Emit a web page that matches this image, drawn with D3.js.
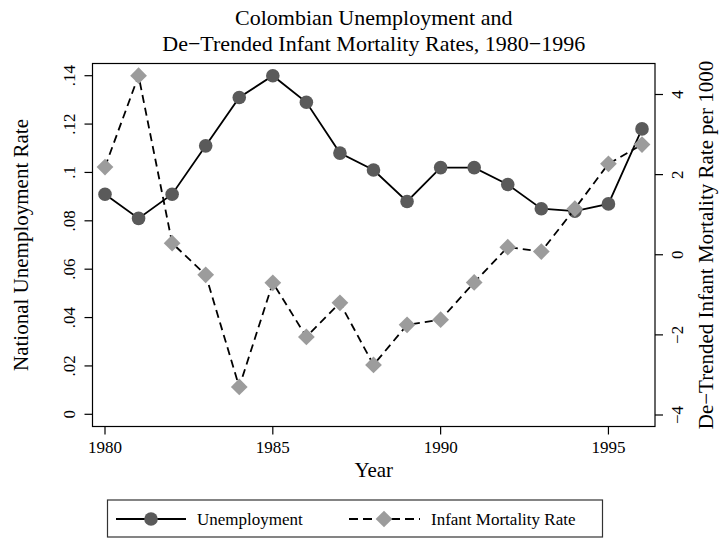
<!DOCTYPE html>
<html>
<head>
<meta charset="utf-8">
<script src="https://cdn.jsdelivr.net/npm/d3@7"></script>
<style>
  body { margin: 0; background: #fff; }
  svg { font-family: "Liberation Serif", "Times New Roman", serif; }
</style>
</head>
<body>
<svg width="725" height="548"></svg>
<script>
const years = [1980, 1981, 1982, 1983, 1984, 1985, 1986, 1987, 1988, 1989, 1990, 1991, 1992, 1993, 1994, 1995, 1996];
const unemployment = [0.091, 0.081, 0.091, 0.111, 0.131, 0.140, 0.129, 0.108, 0.101, 0.088, 0.102, 0.102, 0.095, 0.085, 0.084, 0.087, 0.118];
const infantMortality = [2.19, 4.47, 0.29, -0.50, -3.30, -0.70, -2.05, -1.20, -2.75, -1.75, -1.62, -0.69, 0.19, 0.08, 1.15, 2.27, 2.75];

const xTicks = [1980, 1985, 1990, 1995];
const leftTicks = [0, 0.02, 0.04, 0.06, 0.08, 0.1, 0.12, 0.14];
const rightTicks = [-4, -2, 0, 2, 4];

const svg = d3.select('svg');
const frame = { left: 92.5, right: 655, top: 63.5, bottom: 426.5 };

const x = d3.scaleLinear().domain([1980, 1996]).range([105, 642]);
const yL = d3.scaleLinear().domain([0, 0.14]).range([414.3, 75.7]);
const yR = d3.scaleLinear().domain([-4, 4]).range([415, 94.5]);

const circleFill = '#5a5a5a';
const diamondFill = '#9c9c9c';

// title
const title = svg.append('text')
    .attr('text-anchor', 'middle')
    .style('font-size', '22px');
title.append('tspan').attr('x', (frame.left + frame.right) / 2).attr('y', 25).text('Colombian Unemployment and');
title.append('tspan').attr('x', (frame.left + frame.right) / 2).attr('y', 51).text('De\u2212Trended Infant Mortality Rates, 1980\u22121996');

// frame
svg.append('rect')
    .attr('x', frame.left).attr('y', frame.top)
    .attr('width', frame.right - frame.left)
    .attr('height', frame.bottom - frame.top)
    .attr('fill', 'none').attr('stroke', '#000').attr('stroke-width', 1.2);

// x axis
const xAxis = svg.append('g').attr('transform', `translate(0,${frame.bottom})`);
xAxis.selectAll('line').data(xTicks).join('line')
    .attr('x1', d => x(d)).attr('x2', d => x(d))
    .attr('y1', 0).attr('y2', 8)
    .attr('stroke', '#000').attr('stroke-width', 1.2);
xAxis.selectAll('text').data(xTicks).join('text')
    .attr('x', d => x(d)).attr('y', 26)
    .attr('text-anchor', 'middle')
    .style('font-size', '17px')
    .text(d => d);

svg.append('text')
    .attr('x', (frame.left + frame.right) / 2).attr('y', 477)
    .attr('text-anchor', 'middle')
    .style('font-size', '21px')
    .text('Year');

// left y axis
const fmtL = d => d === 0 ? '0' : d3.format('.2f')(d).replace(/^0/, '').replace(/0$/, '');
const left = svg.append('g');
left.selectAll('line').data(leftTicks).join('line')
    .attr('x1', frame.left - 8).attr('x2', frame.left)
    .attr('y1', d => yL(d)).attr('y2', d => yL(d))
    .attr('stroke', '#000').attr('stroke-width', 1.2);
left.selectAll('text').data(leftTicks).join('text')
    .attr('transform', d => `translate(${frame.left - 18},${yL(d)}) rotate(-90)`)
    .attr('text-anchor', 'middle')
    .style('font-size', '17px')
    .text(fmtL);

svg.append('text')
    .attr('transform', `translate(28,${(frame.top + frame.bottom) / 2}) rotate(-90)`)
    .attr('text-anchor', 'middle')
    .style('font-size', '21px')
    .text('National Unemployment Rate');

// right y axis
const right = svg.append('g');
right.selectAll('line').data(rightTicks).join('line')
    .attr('x1', frame.right).attr('x2', frame.right + 8)
    .attr('y1', d => yR(d)).attr('y2', d => yR(d))
    .attr('stroke', '#000').attr('stroke-width', 1.2);
right.selectAll('text').data(rightTicks).join('text')
    .attr('transform', d => `translate(${frame.right + 28},${yR(d)}) rotate(-90)`)
    .attr('text-anchor', 'middle')
    .style('font-size', '17px')
    .text(d => d < 0 ? '\u2212' + Math.abs(d) : d);

svg.append('text')
    .attr('transform', `translate(713,${(frame.top + frame.bottom) / 2}) rotate(-90)`)
    .attr('text-anchor', 'middle')
    .style('font-size', '21px')
    .text('De\u2212Trended Infant Mortality Rate per 1000');

// series
const unempLine = d3.line().x((d, i) => x(years[i])).y(d => yL(d));
const imrLine = d3.line().x((d, i) => x(years[i])).y(d => yR(d));

svg.append('path')
    .datum(unemployment)
    .attr('d', unempLine)
    .attr('fill', 'none').attr('stroke', '#000').attr('stroke-width', 1.8);

svg.selectAll('circle.unemp').data(unemployment).join('circle')
    .attr('class', 'unemp')
    .attr('cx', (d, i) => x(years[i])).attr('cy', d => yL(d))
    .attr('r', 6.8)
    .attr('fill', circleFill);

svg.append('path')
    .datum(infantMortality)
    .attr('d', imrLine)
    .attr('fill', 'none').attr('stroke', '#000').attr('stroke-width', 1.8)
    .attr('stroke-dasharray', '8,5');

const diamond = d3.symbol().type(d3.symbolSquare).size(140);
svg.selectAll('path.imr').data(infantMortality).join('path')
    .attr('class', 'imr')
    .attr('d', diamond)
    .attr('transform', (d, i) => `translate(${x(years[i])},${yR(d)}) rotate(45)`)
    .attr('fill', diamondFill);

// legend
const legend = svg.append('g');
legend.append('rect')
    .attr('x', 107.5).attr('y', 500)
    .attr('width', 495).attr('height', 37)
    .attr('fill', 'none').attr('stroke', '#333').attr('stroke-width', 1.2);

legend.append('line')
    .attr('x1', 116).attr('x2', 186).attr('y1', 519).attr('y2', 519)
    .attr('stroke', '#000').attr('stroke-width', 1.8);
legend.append('circle')
    .attr('cx', 151).attr('cy', 519).attr('r', 6.8).attr('fill', circleFill);
legend.append('text')
    .attr('x', 197).attr('y', 525)
    .style('font-size', '17px')
    .text('Unemployment');

legend.append('line')
    .attr('x1', 349).attr('x2', 420).attr('y1', 519).attr('y2', 519)
    .attr('stroke', '#000').attr('stroke-width', 1.8)
    .attr('stroke-dasharray', '9,5');
legend.append('path')
    .attr('d', diamond)
    .attr('transform', 'translate(384,519) rotate(45)')
    .attr('fill', diamondFill);
legend.append('text')
    .attr('x', 431).attr('y', 525)
    .style('font-size', '17px')
    .text('Infant Mortality Rate');
</script>
</body>
</html>
